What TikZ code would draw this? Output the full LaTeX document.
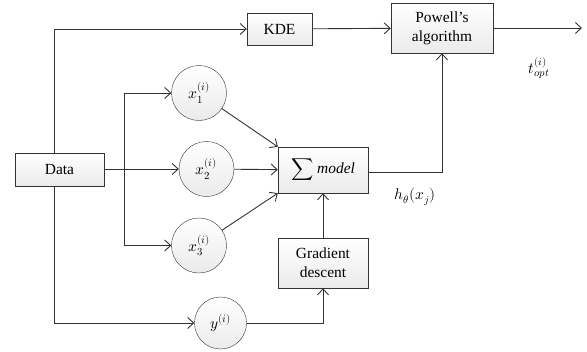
\documentclass[tikz,border=0pt]{standalone}
\usepackage{unicode-math}
\setmainfont{Liberation Serif}
\setmathfont{Latin Modern Math}
\usepackage{tikz}
\usetikzlibrary{arrows.meta,positioning,calc}
\usepackage{xcolor}
\tikzset{
    optbox/.style={draw=black!80, top color=white, bottom color=gray!16, align=center, font=\fontsize{15.5}{19}\selectfont, inner sep=1pt},
    optvar/.style={circle, draw=black!80, top color=white, bottom color=gray!16, font=\fontsize{15.5}{18}\selectfont, inner sep=0pt},
    optarrow/.style={-{Straight Barb[length=6bp,width=11bp]}, draw=black!80, line width=0.9bp},
    optline/.style={draw=black!80, line width=0.9bp},
    optnote/.style={font=\fontsize{15.5}{18}\selectfont, inner sep=1pt}
}
\begin{document}
\begin{tikzpicture}[x=1bp, y=1bp]
        \useasboundingbox (0,0) rectangle (587,351);
        \node[optbox, minimum width=89bp, minimum height=33bp] (data) at (59.5,181.5) {Data};
        \node[optbox, minimum width=65bp, minimum height=32bp] (kde) at (279.5,322) {KDE};
        \node[optbox, minimum width=102bp, minimum height=50bp] (powell) at (442,323) {Powell's\\algorithm};
        \node[optvar, minimum size=55bp] (xone) at (199,258) {$x^{(i)}_1$};
        \node[optvar, minimum size=55bp] (xtwo) at (206.5,182) {$x^{(i)}_2$};
        \node[optvar, minimum size=55bp] (xthree) at (199,105.5) {$x^{(i)}_3$};
        \node[optvar, minimum size=52bp] (yvar) at (220.5,28) {$y^{(i)}$};
        \node[optbox, minimum width=90bp, minimum height=46bp] (model) at (323,181) {$\displaystyle\sum$ \textit{model}};
        \node[optbox, minimum width=90bp, minimum height=50bp] (grad) at (323,88) {Gradient\\descent};
        \coordinate (out) at (582,323);
        \coordinate (split) at (124,182);
        \node[optnote] (topt) at (539,283) {$t^{(i)}_{opt}$};
        \node[optnote] (htheta) at (415,154) {$h_\theta(x_j)$};

        \draw[optarrow] ([xshift=-5.5bp]data.north) |- (kde);
        \draw[optarrow] (kde) -- (powell);
        \draw[optarrow] (powell) -- (out);
        \draw[optarrow] (data.east |- split) -- (xtwo);
        \draw[optline] (split |- xone) -- (split |- xthree);
        \draw[optarrow] (split |- xone) -- (xone);
        \draw[optarrow] (split |- xthree) -- (xthree);
        \draw[optarrow] (xone) -- (model.north west);
        \draw[optarrow] (xtwo) -- (model);
        \draw[optarrow] (xthree) -- (model.south west);
        \draw[optarrow] ([xshift=-5.5bp]data.south) |- (yvar);
        \draw[optarrow] (yvar) -| (grad);
        \draw[optarrow] (grad) -- (model);
        \draw[optarrow] ([yshift=-2bp]model.east) -| (powell.south);
    \end{tikzpicture}
\end{document}
